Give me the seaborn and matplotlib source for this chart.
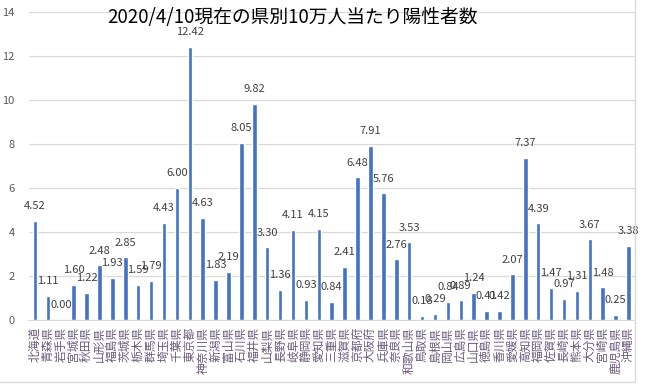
import matplotlib
matplotlib.use('Agg')
import matplotlib.pyplot as plt
import seaborn as sns
import pandas as pd
from matplotlib.lines import Line2D

prefs = ['北海道', '青森県', '岩手県', '宮城県', '秋田県', '山形県', '福島県', '茨城県',
         '栃木県', '群馬県', '埼玉県', '千葉県', '東京都', '神奈川県', '新潟県', '富山県',
         '石川県', '福井県', '山梨県', '長野県', '岐阜県', '静岡県', '愛知県', '三重県',
         '滋賀県', '京都府', '大阪府', '兵庫県', '奈良県', '和歌山県', '鳥取県', '島根県',
         '岡山県', '広島県', '山口県', '徳島県', '香川県', '愛媛県', '高知県', '福岡県',
         '佐賀県', '長崎県', '熊本県', '大分県', '宮崎県', '鹿児島県', '沖縄県']
rate = [4.52, 1.11, 0.00, 1.60, 1.22, 2.48, 1.93, 2.85, 1.59, 1.79, 4.43, 6.00,
        12.42, 4.63, 1.83, 2.19, 8.05, 9.82, 3.30, 1.36, 4.11, 0.93, 4.15, 0.84,
        2.41, 6.48, 7.91, 5.76, 2.76, 3.53, 0.18, 0.29, 0.84, 0.89, 1.24, 0.41,
        0.42, 2.07, 7.37, 4.39, 1.47, 0.97, 1.31, 3.67, 1.48, 0.25, 3.38]
title = '2020/4/10現在の県別10万人当たり陽性者数'

df = pd.DataFrame({'pref': prefs, 'rate': rate})

sns.set_style('white')
plt.rcParams['font.family'] = ['Noto Sans CJK JP', 'DejaVu Sans']

fig = plt.figure(figsize=(6.5, 3.84), dpi=100)
ax = fig.add_axes([28.5 / 650, 1 - 320 / 384, (635 - 28.5) / 650, (320 - 12) / 384])

sns.barplot(data=df, x='pref', y='rate', color='#4472c4', width=0.35,
            saturation=1, ax=ax, zorder=3)

ax.set_ylim(0, 14)
ax.set_yticks(range(0, 15, 2))
ax.yaxis.grid(True, color='#d9d9d9', linewidth=0.9, zorder=0)
ax.set_axisbelow(True)
for s in ['top', 'right', 'left']:
    ax.spines[s].set_visible(False)
ax.spines['bottom'].set_color('#d9d9d9')
ax.set_xlabel('')
ax.set_ylabel('')
ax.tick_params(axis='y', length=0, labelsize=8, labelcolor='#595959', pad=10)
ax.tick_params(axis='x', length=0, labelsize=8.5, labelcolor='#6b5b7b', pad=5)
plt.setp(ax.get_xticklabels(), rotation=90)

for c in ax.containers:
    ax.bar_label(c, labels=[f'{v:.2f}' for v in rate], padding=7,
                 fontsize=8, color='#404040')

fig.text(0.45, 0.955, title, ha='center', va='center', fontsize=13.5, color='black')

# chart area border
fig.add_artist(Line2D([635 / 650, 635 / 650], [1 - 382 / 384, 1], color='#d9d9d9', lw=1))
fig.add_artist(Line2D([0, 635 / 650], [1 - 382 / 384, 1 - 382 / 384], color='#d9d9d9', lw=1))

fig.savefig('out.png', dpi=100)
